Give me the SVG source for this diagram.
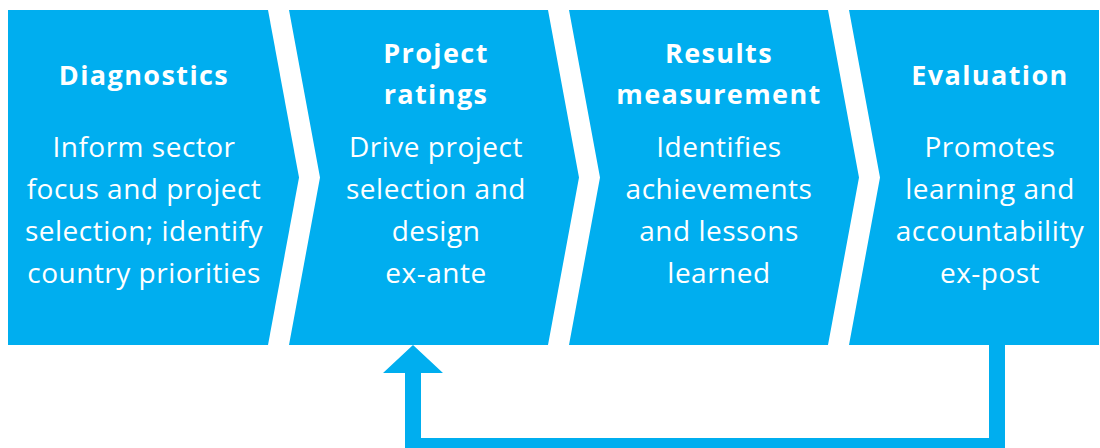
<svg xmlns="http://www.w3.org/2000/svg" width="1100" height="448" viewBox="0 0 1100 448">
<style>
.shape{fill:#00AEEF}
.h{font-family:"Open Sans","Noto Sans",sans-serif;font-weight:bold;font-size:27px;letter-spacing:1.4px;fill:#fff;text-anchor:middle}
.b{font-family:"Open Sans","Noto Sans",sans-serif;font-size:28px;letter-spacing:0.5px;fill:#fff;text-anchor:middle}
.conn{fill:#00AEEF}
</style>
<rect width="1100" height="448" fill="#fff"/>
<g id="diagnostics">
<polygon class="shape" points="8,10 268,10 299,177.5 268,345 8,345"/>
<text class="h" x="144" y="85">Diagnostics</text>
<text class="b" x="144" y="157">Inform sector</text>
<text class="b" x="144" y="199">focus and project</text>
<text class="b" x="144" y="241">selection; identify</text>
<text class="b" x="144" y="283">country priorities</text>
</g>
<g id="project-ratings">
<polygon class="shape" points="289,10 548,10 579,177.5 548,345 289,345 320,177.5"/>
<text class="h" x="436" y="63">Project</text>
<text class="h" x="436" y="104">ratings</text>
<text class="b" x="436" y="157">Drive project</text>
<text class="b" x="436" y="199">selection and</text>
<text class="b" x="436" y="241">design</text>
<text class="b" x="436" y="283">ex-ante</text>
</g>
<g id="results-measurement">
<polygon class="shape" points="569,10 828,10 859,177.5 828,345 569,345 600,177.5"/>
<text class="h" x="719" y="63">Results</text>
<text class="h" x="719" y="104">measurement</text>
<text class="b" x="719" y="157">Identifies</text>
<text class="b" x="719" y="199">achievements</text>
<text class="b" x="719" y="241">and lessons</text>
<text class="b" x="719" y="283">learned</text>
</g>
<g id="evaluation">
<polygon class="shape" points="849,10 1099,10 1099,345 849,345 880,177.5"/>
<text class="h" x="990" y="85">Evaluation</text>
<text class="b" x="990" y="157">Promotes</text>
<text class="b" x="990" y="199">learning and</text>
<text class="b" x="990" y="241">accountability</text>
<text class="b" x="990" y="283">ex-post</text>
</g>
<g id="connectors">
<polygon class="conn" points="989,345 1005,345 1005,448 405,448 405,373 383,373 413,345 443,373 421,373 421,438 989,438"/>
</g>
</svg>
